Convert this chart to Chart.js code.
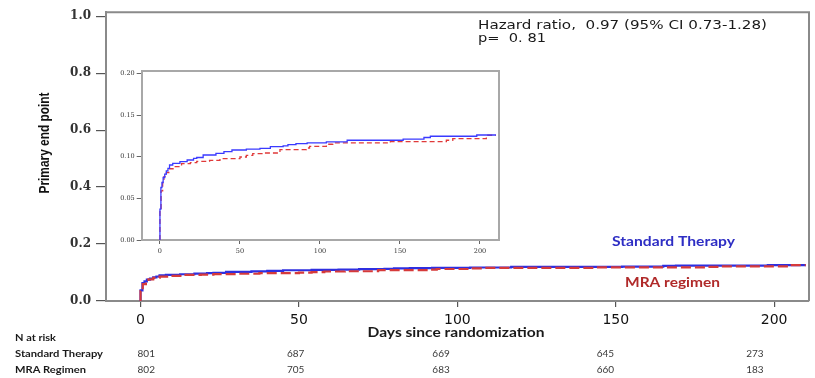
<!DOCTYPE html>
<html>
<head>
<meta charset="utf-8">
<script src="https://cdn.jsdelivr.net/npm/chart.js@4"></script>
<style>
  html, body { margin: 0; padding: 0; background: #ffffff; }
  #wrap { position: relative; width: 815px; height: 378px; }
  #main { position: absolute; left: 0; top: 0; }
  #inset { position: absolute; left: 108px; top: 64px; background: #ffffff; }
</style>
</head>
<body>
<div id="wrap">
  <canvas id="main" width="815" height="378"></canvas>
  <canvas id="inset" width="398" height="196"></canvas>
</div>
<script>
// ---------- data ----------
const stdDays = [0, 0.6, 1.25, 2, 3, 4, 5, 6, 8, 12.5, 17, 21, 23, 27, 35, 40, 45, 54, 62.5, 69, 77, 80, 85, 92, 104, 117, 152, 165, 169, 198, 200, 210];
const stdValues = [0, 0.037, 0.063, 0.069, 0.075, 0.079, 0.083, 0.086, 0.090, 0.092, 0.094, 0.096, 0.098, 0.099, 0.102, 0.104, 0.106, 0.108, 0.109, 0.110, 0.112, 0.113, 0.1145, 0.1157, 0.1165, 0.1177, 0.1197, 0.121, 0.123, 0.1245, 0.126, 0.126];
const mraDays = [0, 0.7, 1.7, 2.5, 4, 6, 9, 13.5, 19, 23, 31, 37.5, 50, 54, 58, 64.5, 75, 91.5, 93.5, 104, 108, 144, 179, 183, 204, 205, 210];
const mraValues = [0, 0.035, 0.059, 0.069, 0.076, 0.081, 0.0855, 0.088, 0.0916, 0.0928, 0.0944, 0.0956, 0.0976, 0.0996, 0.1016, 0.1036, 0.1044, 0.1084, 0.1104, 0.1124, 0.1149, 0.1165, 0.118, 0.1197, 0.1217, 0.1257, 0.1257];

const xTicks = [0, 50, 100, 150, 200];
const yTicks = [0, 0.2, 0.4, 0.6, 0.8, 1.0];
const insetYTicks = [0, 0.05, 0.10, 0.15, 0.20];

const seriesNames = ["Standard Therapy", "MRA regimen"];
const riskRowLabels = ["Standard Therapy", "MRA Regimen"];
const riskTimes = [0, 50, 100, 150, 200];
const riskStd = [801, 687, 669, 645, 273];
const riskMra = [802, 705, 683, 660, 183];

const hazardText = "Hazard ratio,  0.97 (95% CI 0.73-1.28)";
const pText = "p=  0. 81";

// ---------- helpers ----------
const toPts = (xs, ys) => xs.map((x, i) => ({ x: x, y: ys[i] }));
const BLUE = '#2f2fe0';
const RED = '#d63a3a';

function fitText(ctx, text, x, y, font, width, align, color) {
  ctx.save();
  ctx.font = font;
  ctx.fillStyle = color;
  ctx.textBaseline = 'middle';
  ctx.textAlign = 'left';
  const w = ctx.measureText(text).width;
  const s = width / w;
  let left = x;
  if (align === 'center') left = x - width / 2;
  ctx.translate(left, y);
  ctx.scale(s, 1);
  ctx.fillText(text, 0, 0);
  ctx.restore();
}

// ---------- main chart ----------
const mainDecor = {
  id: 'mainDecor',
  afterDraw(chart) {
    const ctx = chart.ctx;
    const a = chart.chartArea;
    ctx.save();
    ctx.strokeStyle = '#8a8a8a';
    ctx.lineWidth = 2;
    ctx.beginPath();
    ctx.moveTo(a.left, a.top);
    ctx.lineTo(a.right, a.top);
    ctx.lineTo(a.right, a.bottom);
    ctx.stroke();
    ctx.restore();

    fitText(ctx, hazardText, 478, 26, '12.5px "DejaVu Sans"', 289, 'left', '#1a1a1a');
    fitText(ctx, pText, 478, 38.5, '12.5px "DejaVu Sans"', 68, 'left', '#1a1a1a');
    fitText(ctx, seriesNames[0], 612, 241, 'bold 14px Lato', 123, 'left', '#2e2ec4');
    fitText(ctx, seriesNames[1], 625, 282, 'bold 14px Lato', 95, 'left', '#b02a2a');
    fitText(ctx, 'Days since randomization', 456, 332, 'bold 14px Lato', 177, 'center', '#1a1a1a');

    // y-axis title
    ctx.save();
    ctx.translate(45, 143);
    ctx.rotate(-Math.PI / 2);
    fitText(ctx, 'Primary end point', 0, 0, 'bold 14px "Liberation Sans Narrow", "Liberation Sans"', 101, 'center', '#111111');
    ctx.restore();

    // number at risk table
    fitText(ctx, 'N at risk', 15, 338, 'bold 10px Lato', 41, 'left', '#1a1a1a');
    fitText(ctx, riskRowLabels[0], 15, 354, 'bold 10px Lato', 88, 'left', '#1a1a1a');
    fitText(ctx, riskRowLabels[1], 15, 370, 'bold 10px Lato', 71, 'left', '#1a1a1a');
    const xs = chart.scales.x;
    const shift = [-3, -12, -25, -19, -28];
    ctx.save();
    ctx.font = '10px Lato';
    ctx.fillStyle = '#3a3a3a';
    ctx.textBaseline = 'middle';
    ctx.textAlign = 'left';
    riskTimes.forEach((t, i) => {
      const px = xs.getPixelForValue(t) + shift[i];
      ctx.fillText(String(riskStd[i]), px, 354);
      ctx.fillText(String(riskMra[i]), px, 370);
    });
    ctx.restore();
  }
};

new Chart(document.getElementById('main'), {
  type: 'line',
  data: {
    datasets: [
      { label: seriesNames[1], data: toPts(mraDays, mraValues), borderColor: RED, borderWidth: 2.2, borderDash: [10, 4], stepped: 'after', pointRadius: 0, fill: false },
      { label: seriesNames[0], data: toPts(stdDays, stdValues), borderColor: BLUE, borderWidth: 2.2, stepped: 'after', pointRadius: 0, fill: false }
    ]
  },
  options: {
    responsive: false,
    animation: false,
    layout: { padding: { top: 7, right: 6, left: 0, bottom: 0 } },
    plugins: { legend: { display: false }, tooltip: { enabled: false } },
    scales: {
      x: {
        type: 'linear', min: -10.9, max: 211,
        afterBuildTicks: s => { s.ticks = xTicks.map(v => ({ value: v })); },
        afterFit: s => { s.height = 77; },
        grid: { drawOnChartArea: false, drawTicks: true, tickLength: 6, color: '#555555', lineWidth: 1.2 },
        border: { color: '#8a8a8a', width: 2 },
        ticks: { font: { family: 'DejaVu Sans', size: 14 }, color: '#111111', padding: 5, maxRotation: 0, callback: v => String(v) }
      },
      y: {
        type: 'linear', min: 0, max: 1.014,
        afterBuildTicks: s => { s.ticks = yTicks.map(v => ({ value: v })); },
        afterFit: s => { s.width = 106; },
        grid: { drawOnChartArea: false, drawTicks: true, tickLength: 10, color: '#555555', lineWidth: 1.2 },
        border: { color: '#8a8a8a', width: 2 },
        ticks: { font: { family: 'DejaVu Serif', size: 12, weight: 'bold' }, color: '#333333', padding: 5, callback: v => Number(v).toFixed(1) }
      }
    }
  },
  plugins: [mainDecor]
});

// ---------- inset chart ----------
const insetFrame = {
  id: 'insetFrame',
  afterDraw(chart) {
    const ctx = chart.ctx;
    const a = chart.chartArea;
    ctx.save();
    ctx.strokeStyle = '#a8a8a8';
    ctx.lineWidth = 2;
    ctx.beginPath();
    ctx.moveTo(a.left, a.top);
    ctx.lineTo(a.right, a.top);
    ctx.lineTo(a.right, a.bottom);
    ctx.stroke();
    ctx.restore();
  }
};

new Chart(document.getElementById('inset'), {
  type: 'line',
  data: {
    datasets: [
      { label: seriesNames[0], data: toPts(stdDays, stdValues), borderColor: '#3a3aff', borderWidth: 1.3, stepped: 'after', pointRadius: 0, fill: false },
      { label: seriesNames[1], data: toPts(mraDays, mraValues), borderColor: '#e03a3a', borderWidth: 1.3, borderDash: [5, 3], stepped: 'after', pointRadius: 0, fill: false }
    ]
  },
  options: {
    responsive: false,
    animation: false,
    layout: { padding: { top: 7, right: 7, left: 0, bottom: 0 } },
    plugins: { legend: { display: false }, tooltip: { enabled: false } },
    scales: {
      x: {
        type: 'linear', min: -11.4, max: 211.9,
        afterBuildTicks: s => { s.ticks = xTicks.map(v => ({ value: v })); },
        afterFit: s => { s.height = 20; },
        grid: { drawOnChartArea: false, drawTicks: true, tickLength: 4, color: '#666666', lineWidth: 1 },
        border: { color: '#a8a8a8', width: 2 },
        ticks: { font: { family: 'DejaVu Serif', size: 6.5 }, color: '#333333', padding: 3, maxRotation: 0, callback: v => String(v) }
      },
      y: {
        type: 'linear', min: 0, max: 0.2028,
        afterBuildTicks: s => { s.ticks = insetYTicks.map(v => ({ value: v })); },
        afterFit: s => { s.width = 33.7; },
        grid: { drawOnChartArea: false, drawTicks: true, tickLength: 5, color: '#666666', lineWidth: 1 },
        border: { color: '#a8a8a8', width: 2 },
        ticks: { font: { family: 'DejaVu Serif', size: 6.5 }, color: '#333333', padding: 2, callback: v => Number(v).toFixed(2) }
      }
    }
  },
  plugins: [insetFrame]
});
</script>
</body>
</html>
